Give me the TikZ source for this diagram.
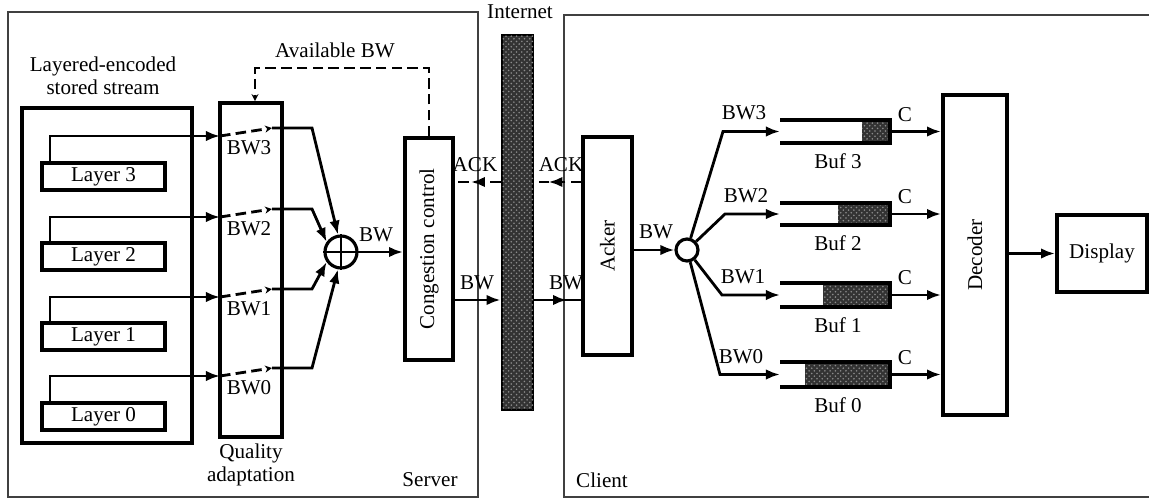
\documentclass[tikz,border=0pt]{standalone}
\usepackage{fontspec}
\setmainfont{Liberation Serif}
\usetikzlibrary{arrows.meta,patterns,decorations.markings,positioning}

\tikzset{
  blk/.style={draw, line width=2.2pt, inner sep=0pt},
  outerframe/.style={draw=black!75, line width=0.8pt},
  conn/.style={line width=1.6pt},
  dashln/.style={line width=1.6pt, dash pattern=on 6pt off 3pt},
  arr/.style={-{Latex[length=8pt,width=6pt]}},
  swarr/.style={-{Stealth[open,length=4pt,width=4pt]}},
  midarr/.style={postaction={decorate}, decoration={markings,
      mark=at position #1 with {\arrow{Latex[length=8pt,width=6pt]}}}},
  dots/.style={fill=black!80, postaction={pattern=crosshatch dots, pattern color=black!45}}
}

\begin{document}
\begin{tikzpicture}[x=0.02cm, y=-0.02cm, node distance=1.6cm,
    every node/.style={font=\fontsize{12}{13}\selectfont}]
    \useasboundingbox (0,0) rectangle (1149,500);

    % outer frames
    \draw[outerframe] (8,12) rectangle (478,497);
    \draw[outerframe] (564,15) rectangle (1175,497);
    \node (server) at (430,480) {Server};
    \node (client) at (602,480) {Client};

    % server side
    \node [align=center]                                       (title) at (103,76)  {Layered-encoded\\stored stream};
    \node [blk, minimum width=3.4cm, minimum height=6.7cm]     (store) at (107,275.5) {};
    \node [blk, minimum width=2.46cm, minimum height=0.54cm]   (L3)    at (103.5,176.5) {Layer 3};
    \node [blk, minimum width=2.46cm, minimum height=0.54cm, below of= L3] (L2) {Layer 2};
    \node [blk, minimum width=2.46cm, minimum height=0.54cm, below of= L2] (L1) {Layer 1};
    \node [blk, minimum width=2.46cm, minimum height=0.54cm, below of= L1] (L0) {Layer 0};
    \node [blk, minimum width=1.24cm, minimum height=6.68cm]   (qa)    at (251,270) {};
    \node [align=center]                                       (qalbl) at (251,465) {Quality\\adaptation};
    \node [blk, minimum width=0.96cm, minimum height=4.44cm]   (cc)    at (429,249) {\rotatebox{90}{Congestion control}};
    \node [draw, circle, line width=1.8pt, minimum size=0.64cm, inner sep=0pt] (sum) at (341,252) {};
    \draw [line width=1.3pt] (sum.north) -- (sum.south) (sum.west) -- (sum.east);

    % layer switches
    \foreach \i/\y/\a in {3/136/100, 2/217/145, 1/297/215, 0/376/260} {
        \coordinate (sw\i a) at (220,\y);
        \coordinate (sw\i b) at (272,\y-8);
        \coordinate (bend\i) at (312,\y-8);
        \draw [conn, arr] ([xshift=0.2cm]L\i.north west) |- (sw\i a);
        \draw [dashln, swarr] (sw\i a) -- (sw\i b);
        \draw [conn, arr] (sw\i b) -- (bend\i) -- (sum.\a);
        \node (bwl\i) at (249,\y+12) {BW\i};
    }

    \coordinate (avl) at (255,68);
    \draw [dashln, swarr] (cc.north) |- (avl) -- (avl |- qa.north);
    \node (avbw) at (335,50) {Available BW};
    \draw [conn, arr] (sum.east) -- (sum.east -| cc.west);
    \node (bwsum) at (376,235) {BW};

    % internet
    \node [draw, line width=1.6pt, minimum width=0.62cm, minimum height=7.5cm, dots] (net) at (517.5,222.5) {};
    \node (netlbl) at (520,12) {Internet};
    \coordinate (ack) at (0,182);
    \coordinate (bw)  at (0,300);
    \draw [dashln, midarr=0.65] (net.west |- ack) -- (cc.east |- ack);
    \node (ackl) at (475,165) {ACK};
    \draw [conn, arr] (cc.east |- bw) -- (net.west |- bw);
    \node (bwl) at (477,283) {BW};

    % client side
    \node [blk, minimum width=0.98cm, minimum height=4.36cm] (acker) at (607.5,246) {\rotatebox{90}{Acker}};
    \draw [dashln, midarr=0.7] (acker.west |- ack) -- (net.east |- ack);
    \node (ackr) at (561,165) {ACK};
    \draw [conn, midarr=0.7] (net.east |- bw) -- (acker.west |- bw);
    \node (bwr) at (566,283) {BW};
    \node [draw, circle, line width=1.8pt, minimum size=0.44cm, inner sep=0pt] (split) at (687,250) {};
    \draw [conn, arr] (acker.east |- split) -- (split.west);
    \node (bwsplit) at (656,232) {BW};

    \node [blk, minimum width=1.28cm, minimum height=6.4cm] (dec)  at (975,255)    {\rotatebox{90}{Decoder}};
    \node [blk, minimum width=1.8cm, minimum height=1.54cm] (disp) at (1102,253.5) {Display};
    \draw [conn, arr] (dec.east |- disp) -- (disp.west);

    % buffers
    \foreach \i/\t/\b/\f in {3/120/143/862, 2/203/225/838, 1/283/307/823, 0/362/387/805} {
        \path [dots] (\f,\t) rectangle (890,\b);
        \draw [line width=2.2pt] (780,\t) -- (890,\t) -- (890,\b) -- (780,\b);
        \coordinate (buf\i in)  at (780,{(\t+\b)/2});
        \coordinate (buf\i out) at (890,{(\t+\b)/2});
        \node (bufl\i) at (838,\b+18) {Buf \i};
    }

    \foreach \i/\x/\a/\ly in {3/723/73/113, 2/725/43/196, 1/722/-52/277, 0/720/-75/357} {
        \coordinate (cor\i) at (\x,0 |- buf\i in);
        \draw [conn, arr] (split.\a) -- (cor\i) -- (buf\i in);
        \node (bwc\i) at (\x+21,\ly) {BW\i};
        \draw [conn, arr] (buf\i out) -- (buf\i out -| dec.west);
        \path (buf\i out) ++(15,-17) node (c\i) {C};
    }
\end{tikzpicture}
\end{document}
